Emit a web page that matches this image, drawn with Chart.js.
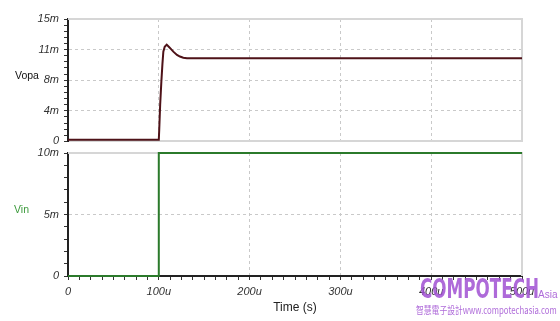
<!DOCTYPE html>
<html>
<head>
<meta charset="utf-8">
<script src="https://cdn.jsdelivr.net/npm/chart.js@4.4.0/dist/chart.umd.min.js"></script>
<style>
  html, body { margin: 0; padding: 0; background: #fff; }
  #wrap { position: relative; width: 560px; height: 321px; overflow: hidden; }
  .box { position: absolute; left: 0; width: 560px; }
  .mark { position: absolute; color: rgba(160, 80, 210, 0.85); white-space: nowrap; transform-origin: left top; }
  #mark1 { left: 420px; top: 275px; font: bold 27px/27px "DejaVu Sans Condensed", sans-serif; transform: scaleX(0.69); }
  #mark2 { left: 538px; top: 289.5px; font: 10px/10px "Liberation Sans", sans-serif; }
  #mark3 { left: 416px; top: 304.5px; font: 10px/10px "Noto Sans CJK TC", sans-serif; transform: scaleX(0.78); }
</style>
</head>
<body>
<div id="wrap">
  <div class="box" style="top:0;height:153px"><canvas id="top" width="560" height="153"></canvas></div>
  <div class="box" style="top:141px;height:180px"><canvas id="bottom" width="560" height="180"></canvas></div>
  <div class="mark" id="mark1">COMPOTECH</div>
  <div class="mark" id="mark2">Asia</div>
  <div class="mark" id="mark3">智慧電子設計www.compotechasia.com</div>
</div>
<script>
'use strict';

// time in microseconds, voltages in millivolts
const vopaTime = [0, 100, 100.5, 101.5, 102.8, 104, 105, 106.5, 108.7, 111, 113.5, 116, 120, 123.3, 127, 131, 500];
const vopaValue = [0.2, 0.2, 1.5, 4.5, 7.3, 9.5, 11, 11.6, 11.86, 11.6, 11.3, 11, 10.6, 10.4, 10.25, 10.2, 10.2];

const vinTime = [0, 100, 100, 500];
const vinValue = [0, 0, 10, 10];

const vopaTickLabels = ['0', '4m', '8m', '11m', '15m'];
const vinTickLabels = ['0', '5m', '10m'];

const gridGrey = '#c9c9c9';
const tickFont = { family: 'Liberation Sans', size: 11, style: 'italic' };

function toPoints(xs, ys) {
  return xs.map((x, i) => ({ x: x, y: ys[i] }));
}

const framePlugin = {
  id: 'frame',
  beforeDatasetsDraw(chart, args, opts) {
    const ctx = chart.ctx;
    const a = chart.chartArea;
    ctx.save();
    ctx.strokeStyle = '#d6d6d6';
    ctx.lineWidth = 2;
    ctx.beginPath();
    ctx.moveTo(a.left, a.top);
    ctx.lineTo(a.right, a.top);
    ctx.lineTo(a.right, a.bottom);
    ctx.stroke();
    ctx.restore();
  },
  afterDraw(chart, args, opts) {
    const ctx = chart.ctx;
    ctx.save();
    ctx.font = '10.5px "Liberation Sans"';
    ctx.fillStyle = opts.color;
    ctx.textBaseline = 'middle';
    ctx.textAlign = 'left';
    ctx.fillText(opts.text, opts.x, opts.y);
    ctx.restore();
  }
};

function xScale(showTicks) {
  return {
    type: 'linear',
    min: 0,
    max: 500,
    afterFit(scale) { scale.height = showTicks ? 45 : 0; },
    ticks: {
      display: showTicks,
      stepSize: 12.5,
      autoSkip: false,
      maxRotation: 0,
      padding: 5,
      color: '#333',
      font: tickFont,
      callback(v, i) {
        if (i % 8 !== 0) return '';
        return v === 0 ? '0' : v + 'u';
      }
    },
    grid: {
      drawTicks: showTicks,
      tickLength: 4,
      tickColor: '#333',
      tickWidth: 1,
      lineWidth: 1,
      color(ctx) {
        if (ctx.index === 0 || ctx.index % 8 !== 0) return 'rgba(0,0,0,0)';
        return gridGrey;
      }
    },
    border: {
      color: showTicks ? '#222' : '#d6d6d6',
      width: 2,
      dash: [3, 3]
    },
    title: {
      display: showTicks,
      text: 'Time (s)',
      color: '#222',
      font: { family: 'Liberation Sans', size: 12 },
      padding: { top: 0, bottom: 6 }
    }
  };
}

function yScale(max, step, every, labels) {
  return {
    type: 'linear',
    min: 0,
    max: max,
    afterFit(scale) { scale.width = 68; },
    ticks: {
      stepSize: step,
      autoSkip: false,
      padding: 5,
      color: '#333',
      font: tickFont,
      callback(v, i) {
        return i % every === 0 ? labels[i / every] : '';
      }
    },
    grid: {
      tickLength: 4,
      tickColor: '#333',
      tickWidth: 1,
      lineWidth: 1,
      color(ctx) {
        const n = Math.round(max / step);
        if (ctx.index === 0 || ctx.index === n || ctx.index % every !== 0) return 'rgba(0,0,0,0)';
        return gridGrey;
      }
    },
    border: { color: '#222', width: 2, dash: [3, 3] }
  };
}

function makeChart(canvasId, points, color, yOpts, showX, label, padTop) {
  return new Chart(document.getElementById(canvasId), {
    type: 'line',
    data: {
      datasets: [{
        label: label.text,
        data: points,
        borderColor: color,
        borderWidth: 2,
        pointRadius: 0,
        tension: 0,
        fill: false,
        clip: false
      }]
    },
    options: {
      responsive: false,
      animation: false,
      parsing: false,
      layout: { padding: { top: padTop, right: 38, bottom: 0, left: 0 } },
      plugins: {
        legend: { display: false },
        tooltip: { enabled: false },
        frame: label
      },
      scales: {
        x: xScale(showX),
        y: yOpts
      }
    },
    plugins: [framePlugin]
  });
}

makeChart('top', toPoints(vopaTime, vopaValue), '#4e1218',
  yScale(15, 0.75, 5, vopaTickLabels), false,
  { text: 'Vopa', x: 15, y: 76, color: '#111' }, 19);

makeChart('bottom', toPoints(vinTime, vinValue), '#2b7a2b',
  yScale(10, 1, 5, vinTickLabels), true,
  { text: 'Vin', x: 14, y: 69, color: '#3c9a3c' }, 12);
</script>
</body>
</html>
